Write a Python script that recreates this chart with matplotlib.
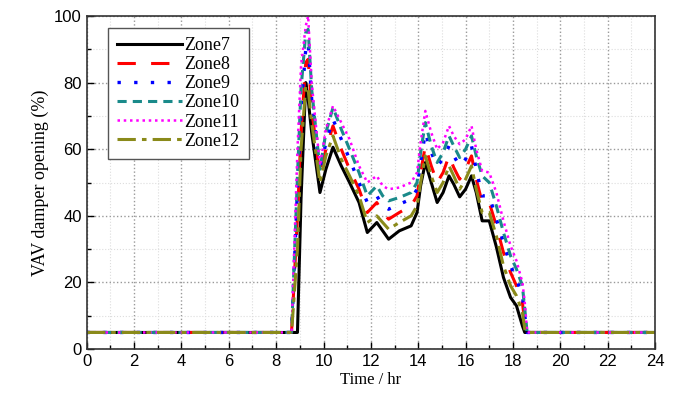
import matplotlib
matplotlib.use("Agg")
import matplotlib.pyplot as plt
from matplotlib.ticker import MultipleLocator

# time points (hr)
time = [0, 8.65, 8.9, 9.05, 9.25, 9.35, 9.5, 9.85, 10.1, 10.4, 10.75, 11.1, 11.5,
        11.85, 12.25, 12.5, 12.75, 13.2, 13.7, 13.95, 14.1, 14.3, 14.55, 14.8,
        15.05, 15.3, 15.5, 15.75, 16.0, 16.25, 16.45, 16.7, 17.0, 17.3, 17.6,
        17.9, 18.15, 18.4, 18.5, 18.6, 24]

zone7 = [5, 5, 5, 45, 80, 75, 65, 47, 54, 60.6, 55, 50, 44, 35, 38, 35.5, 33,
         35.5, 37, 41, 49, 56, 50, 44, 47, 52, 49.5, 45.7, 48, 52, 47, 38.5,
         38.5, 30.7, 21.5, 15.5, 13, 7, 5, 5, 5]
zone8 = [5, 5, 40, 65, 86, 87, 72, 52, 60, 67, 60, 54, 48, 41, 44, 41, 39,
         41, 43, 46, 53, 61, 55, 50, 53, 58, 54.5, 51, 54, 58, 51, 44,
         44, 37, 29, 23, 19, 14, 8, 5, 5]
zone9 = [5, 5, 48, 72, 90, 92, 75, 53, 62, 69, 63, 57, 50, 44, 46, 43, 42,
         43.5, 45, 48, 56, 65, 59, 55, 57, 61, 58, 55, 57, 61, 54, 46,
         46, 39, 32, 25, 21, 16, 10, 5, 5]
zone10 = [5, 5, 52, 78, 95, 96, 78, 54, 65, 72.5, 66, 60, 53, 46, 49, 46, 44.5,
          45.5, 47, 50, 59, 68, 61, 56, 59, 64, 61, 57.5, 60, 64, 58, 52,
          50, 43, 35, 28, 24, 19, 12, 5, 5]
zone11 = [5, 5, 60, 85, 97, 100, 80, 55, 66, 73, 68, 63, 55, 50, 52, 49, 48,
          48.5, 50, 53, 62, 71.5, 65, 60, 62, 67, 64, 61.5, 63, 67, 60, 53.5,
          53, 47, 38.5, 31, 26.5, 20, 14, 5, 5]
zone12 = [5, 5, 30, 60, 79, 78, 68, 50, 58, 64, 57, 52, 46, 38, 40, 38, 36,
          38, 40, 43, 50, 58, 52, 47, 50, 55, 52, 48, 51, 55, 48, 41,
          41, 34, 25, 19, 16, 11, 6, 5, 5]

serif = "Liberation Serif"
sans = "Liberation Sans"

fig = plt.figure(figsize=(6.83, 3.99), dpi=100)
ax = fig.add_axes([0.127, 0.125, 0.832, 0.835])

ax.plot(time, zone7, color="black", lw=2.2, ls="-", label="Zone7")
ax.plot(time, zone8, color="red", lw=2.2, ls=(0, (6, 5)), label="Zone8")
ax.plot(time, zone9, color="blue", lw=2.4, ls=(0, (1, 4)), label="Zone9")
ax.plot(time, zone10, color="#1a8a8a", lw=2.2, ls=(0, (3, 2)), label="Zone10")
ax.plot(time, zone11, color="magenta", lw=1.8, ls=(0, (1, 1.5)), label="Zone11")
ax.plot(time, zone12, color="#8a8a1a", lw=2.2, ls=(0, (6, 2, 1.5, 2)), label="Zone12")

ax.set_xlim(0, 24)
ax.set_ylim(0, 100)
ax.xaxis.set_major_locator(MultipleLocator(2))
ax.xaxis.set_minor_locator(MultipleLocator(1))
ax.yaxis.set_major_locator(MultipleLocator(20))
ax.yaxis.set_minor_locator(MultipleLocator(10))
ax.grid(which="major", color="#999999", ls=":", lw=1.0)
ax.grid(which="minor", color="#dddddd", ls=":", lw=0.8)
ax.set_axisbelow(True)
ax.tick_params(which="both", direction="in", top=False, right=False)
ax.tick_params(which="major", length=5, width=1, labelsize=12)
ax.tick_params(which="minor", length=3, width=1)
for lab in ax.get_xticklabels() + ax.get_yticklabels():
    lab.set_fontfamily(sans)
for s in ax.spines.values():
    s.set_color("#333333")
    s.set_linewidth(1.2)

ax.set_xlabel("Time / hr", fontfamily=serif, fontsize=12, labelpad=2)
ax.set_ylabel("VAV damper opening (%)", fontfamily=serif, fontsize=13, labelpad=4)

leg = ax.legend(loc="upper left", bbox_to_anchor=(0.037, 0.964), borderaxespad=0,
                prop={"family": serif, "size": 13},
                handlelength=3.6, handletextpad=0.15, labelspacing=0.12,
                fancybox=False, edgecolor="#555555", framealpha=1, borderpad=0.5)
leg.get_frame().set_linewidth(1.0)

fig.savefig("out.png", dpi=100)
